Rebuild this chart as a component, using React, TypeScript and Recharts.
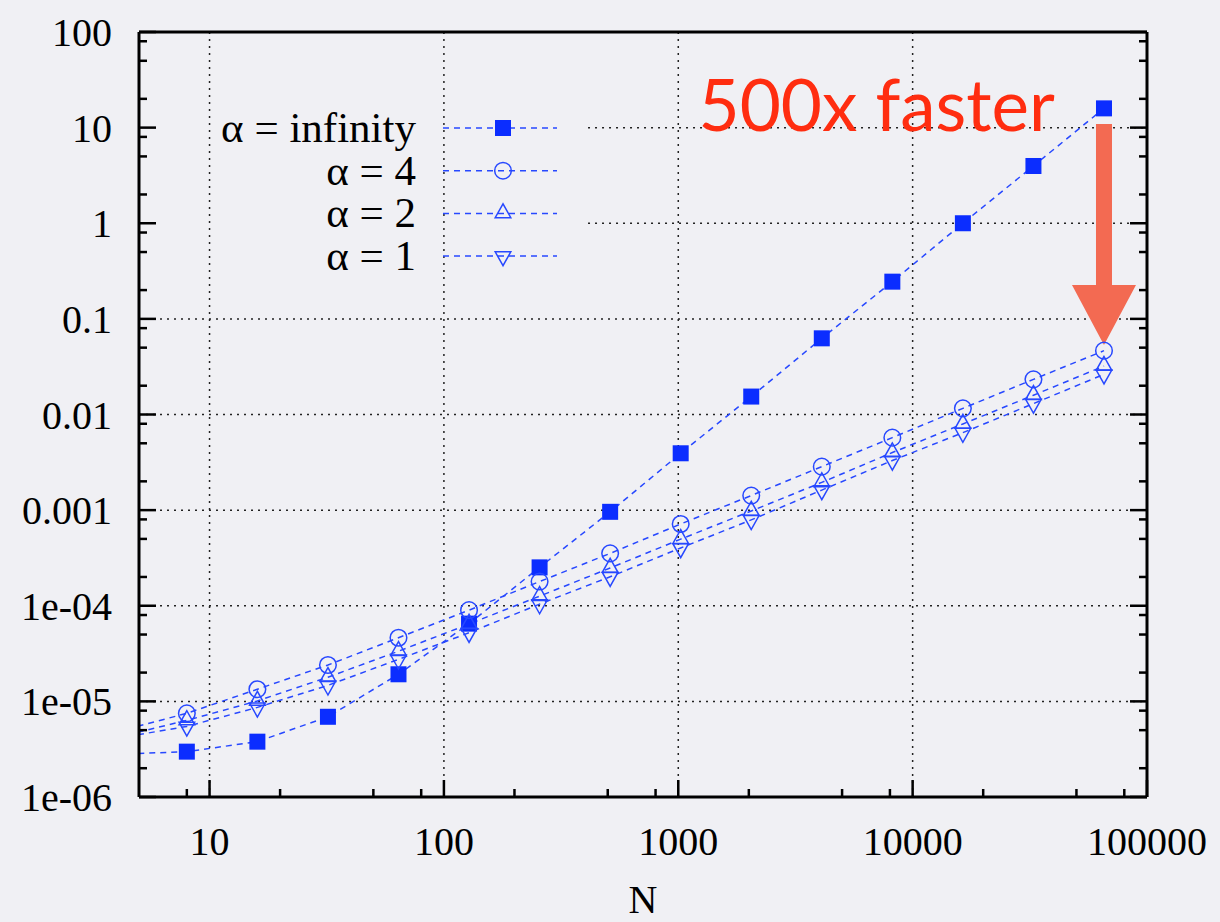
import React from "react";
import {
  LineChart,
  Line,
  XAxis,
  YAxis,
  ReferenceLine,
  ReferenceDot,
  Legend,
} from "recharts";

// problem size
const nValues = [4, 8, 16, 32, 64, 128, 256, 512, 1024, 2048, 4096, 8192, 16384, 32768, 65536];

// run time per alpha
const alphaInf = [2.8e-6, 2.98e-6, 3.79e-6, 6.9e-6, 1.92e-5, 6.5e-5, 2.52e-4, 9.6e-4, 3.93e-3, 1.54e-2, 6.26e-2, 0.245, 1.0, 3.97, 15.9];
const alpha4 = [4.8e-6, 7.5e-6, 1.34e-5, 2.4e-5, 4.63e-5, 9.0e-5, 1.79e-4, 3.53e-4, 7.16e-4, 1.42e-3, 2.85e-3, 5.73e-3, 1.16e-2, 2.33e-2, 4.65e-2];
const alpha2 = [4.2e-6, 6.33e-6, 1.01e-5, 1.79e-5, 3.35e-5, 6.44e-5, 1.26e-4, 2.48e-4, 4.97e-4, 9.8e-4, 1.95e-3, 4.0e-3, 7.96e-3, 1.59e-2, 3.21e-2];
const alpha1 = [4.1e-6, 5.47e-6, 8.65e-6, 1.47e-5, 2.75e-5, 5.22e-5, 1.04e-4, 2.01e-4, 4.02e-4, 7.9e-4, 1.62e-3, 3.3e-3, 6.46e-3, 1.3e-2, 2.63e-2];

const xMajorTicks = [10, 100, 1000, 10000, 100000];
const xMinorTicks = [8, 20, 50, 80, 200, 500, 800, 2000, 5000, 8000, 20000, 50000, 80000];
const yMajorTicks = [1e-6, 1e-5, 1e-4, 0.001, 0.01, 0.1, 1, 10, 100];
const yTickLabels = ["1e-06", "1e-05", "1e-04", "0.001", "0.01", "0.1", "1", "10", "100"];
const yMinorTicks = [
  2e-6, 5e-6, 8e-6, 2e-5, 5e-5, 8e-5, 2e-4, 5e-4, 8e-4, 0.002, 0.005, 0.008,
  0.02, 0.05, 0.08, 0.2, 0.5, 0.8, 2, 5, 8, 20, 50, 80,
];

const xGrid = [10, 100, 1000, 10000];
const yGrid = [1e-5, 1e-4, 0.001, 0.01, 0.1];
const yGridShort = [1, 10];
const shortGridStart = 412;

const speedupLabel = "500x faster";
const speedupText = { x: 40460, y: 9.3 };
const arrowFrom = { x: 65536, y: 10.9 };
const arrowTo = { x: 65536, y: 0.0533 };

const series = [
  { key: "inf", name: "α = infinity", values: alphaInf, marker: "square" },
  { key: "a4", name: "α = 4", values: alpha4, marker: "circle" },
  { key: "a2", name: "α = 2", values: alpha2, marker: "up" },
  { key: "a1", name: "α = 1", values: alpha1, marker: "down" },
];

const data = nValues.map((n, i) => {
  const row: Record<string, number> = { n };
  series.forEach((s) => (row[s.key] = s.values[i]));
  return row;
});

const BG = "#f0f0f4";
const LINE_BLUE = "#2748ff";
const FILL_BLUE = "#0b2dff";
const SERIF = "'Liberation Serif', 'Times New Roman', serif";
const GRID = { stroke: "#222", strokeWidth: 1.5, strokeDasharray: "2 5" };
const FRAME = { stroke: "#000", strokeWidth: 3 };

const Marker = ({ shape, cx, cy }: { shape: string; cx: number; cy: number }) => {
  if (cx == null || cy == null) return <g />;
  if (shape === "square")
    return <rect x={cx - 8} y={cy - 8} width={16} height={16} fill={FILL_BLUE} />;
  if (shape === "circle")
    return <circle cx={cx} cy={cy} r={8.3} fill="none" stroke={LINE_BLUE} strokeWidth={1.5} />;
  // gnuplot style triangles: apex 1.12*v from the point, base 0.5*v on the other side
  const h = 7.8;
  const v = 8.6;
  const s = shape === "up" ? 1 : -1;
  const pts = `${cx},${cy - s * 1.12 * v} ${cx - h},${cy + s * 0.5 * v} ${cx + h},${cy + s * 0.5 * v}`;
  return <polygon points={pts} fill="none" stroke={LINE_BLUE} strokeWidth={1.5} />;
};

const isMajor = (list: number[], v: number) => list.includes(v);

const BottomTick = (props: any) => {
  const { x, y, payload } = props;
  const major = isMajor(xMajorTicks, payload.value);
  return (
    <g>
      <line x1={x} x2={x} y1={y} y2={y - (major ? 17 : 8)} stroke="#000" strokeWidth={2.5} />
      {major && (
        <text x={x} y={y + 58} textAnchor="middle" fontFamily={SERIF} fontSize={40} fill="#000">
          {payload.value}
        </text>
      )}
    </g>
  );
};

const TopTick = (props: any) => {
  const { x, y, payload } = props;
  const major = isMajor(xMajorTicks, payload.value);
  return <line x1={x} x2={x} y1={y} y2={y + (major ? 17 : 8)} stroke="#000" strokeWidth={2.5} />;
};

const LeftTick = (props: any) => {
  const { x, y, payload } = props;
  const idx = yMajorTicks.indexOf(payload.value);
  const major = idx >= 0;
  return (
    <g>
      <line x1={x} x2={x + (major ? 17 : 8)} y1={y} y2={y} stroke="#000" strokeWidth={2.5} />
      {major && (
        <text x={x - 27} y={y + 14} textAnchor="end" fontFamily={SERIF} fontSize={40} fill="#000">
          {yTickLabels[idx]}
        </text>
      )}
    </g>
  );
};

const RightTick = (props: any) => {
  const { x, y, payload } = props;
  const major = isMajor(yMajorTicks, payload.value);
  return <line x1={x} x2={x - (major ? 17 : 8)} y1={y} y2={y} stroke="#000" strokeWidth={2.5} />;
};

const KeyBox = ({ payload }: any) => {
  const shown = series.filter((s) => (payload || []).some((p: any) => p.dataKey === s.key));
  return (
    <svg width={400} height={180}>
      {shown.map((s, i) => {
        const y = 28 + i * 42.7;
        return (
          <g key={s.key}>
            <text x={216} y={y + 14} textAnchor="end" fontFamily={SERIF} fontSize={43} fill="#000">
              {s.name}
            </text>
            <line x1={243} x2={357} y1={y} y2={y} stroke={LINE_BLUE} strokeWidth={1.5} strokeDasharray="6 5" />
            <Marker shape={s.marker} cx={303} cy={y} />
          </g>
        );
      })}
    </svg>
  );
};

const Arrow = (props: any) => {
  const { x1, y1, y2 } = props;
  const top = Math.min(y1, y2);
  const tip = Math.max(y1, y2);
  const headBase = tip - 60;
  const pts = [
    [x1 - 8, top],
    [x1 + 8, top],
    [x1 + 8, headBase],
    [x1 + 32, headBase],
    [x1, tip],
    [x1 - 32, headBase],
    [x1 - 8, headBase],
  ]
    .map((p) => p.join(","))
    .join(" ");
  return <polygon points={pts} fill="#f36a52" />;
};

const SpeedupText = (props: any) => (
  <text
    x={props.cx}
    y={props.cy}
    textAnchor="end"
    fontFamily="Lato, 'Open Sans', sans-serif"
    fontSize={71}
    fill="#ff2d10"
  >
    {speedupLabel}
  </text>
);

const App = () => {
  return (
    <div style={{ position: "absolute", left: 0, top: 0, width: 1220, height: 922, background: BG }}>
      <LineChart width={1220} height={922} data={data} margin={{ top: 31, right: 72, left: 0, bottom: 0 }}>
        <XAxis
          dataKey="n"
          type="number"
          scale="log"
          domain={[5, 100000]}
          allowDataOverflow
          ticks={[...xMajorTicks, ...xMinorTicks]}
          interval={0}
          tickSize={0}
          tickMargin={0}
          tickLine={false}
          tick={BottomTick}
          height={125}
          axisLine={FRAME}
          label={{ value: "N", position: "insideBottom", offset: 9, fontFamily: SERIF, fontSize: 40, fill: "#000" }}
        />
        <XAxis
          xAxisId="top"
          orientation="top"
          type="number"
          scale="log"
          domain={[5, 100000]}
          allowDataOverflow
          ticks={[...xMajorTicks, ...xMinorTicks]}
          interval={0}
          tickSize={0}
          tickMargin={0}
          tickLine={false}
          tick={TopTick}
          height={1}
          axisLine={FRAME}
        />
        <YAxis
          type="number"
          scale="log"
          domain={[1e-6, 100]}
          allowDataOverflow
          ticks={[...yMajorTicks, ...yMinorTicks]}
          interval={0}
          tickSize={0}
          tickMargin={0}
          tickLine={false}
          tick={LeftTick}
          width={139}
          axisLine={FRAME}
        />
        <YAxis
          yAxisId="right"
          orientation="right"
          type="number"
          scale="log"
          domain={[1e-6, 100]}
          allowDataOverflow
          ticks={[...yMajorTicks, ...yMinorTicks]}
          interval={0}
          tickSize={0}
          tickMargin={0}
          tickLine={false}
          tick={RightTick}
          width={1}
          axisLine={FRAME}
        />

        {xGrid.map((v) => (
          <ReferenceLine key={`gx${v}`} x={v} {...GRID} />
        ))}
        {yGrid.map((v) => (
          <ReferenceLine key={`gy${v}`} y={v} {...GRID} />
        ))}
        {yGridShort.map((v) => (
          <ReferenceLine
            key={`gs${v}`}
            segment={[
              { x: shortGridStart, y: v },
              { x: 100000, y: v },
            ]}
            {...GRID}
          />
        ))}

        {series.map((s) => (
          <Line
            key={s.key}
            dataKey={s.key}
            name={s.name}
            type="linear"
            stroke={LINE_BLUE}
            strokeWidth={1.5}
            strokeDasharray="6 5"
            isAnimationActive={false}
            activeDot={false}
            dot={(p: any) => <Marker key={`${s.key}-${p.index}`} shape={s.marker} cx={p.cx} cy={p.cy} />}
          />
        ))}

        <ReferenceLine segment={[arrowFrom, arrowTo]} shape={Arrow} />
        <ReferenceDot x={speedupText.x} y={speedupText.y} r={0} shape={SpeedupText} />

        <Legend
          layout="vertical"
          align="center"
          verticalAlign="middle"
          content={KeyBox}
          wrapperStyle={{ left: 200, top: 100, width: 400, height: 180 }}
        />
      </LineChart>
    </div>
  );
};

export default App;
